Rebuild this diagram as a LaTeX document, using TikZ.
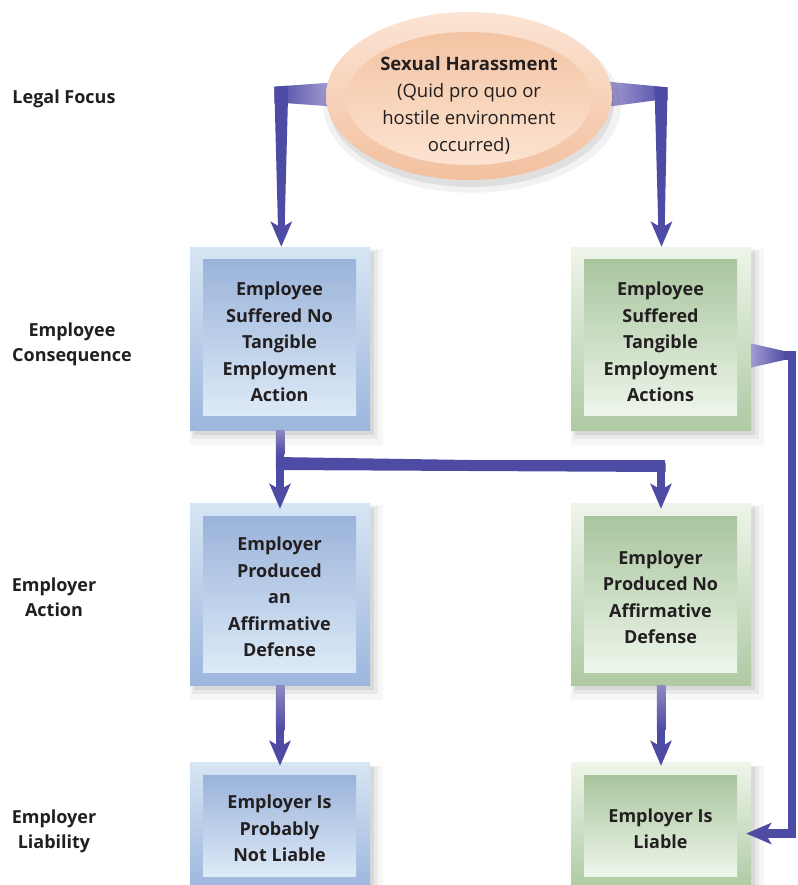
\documentclass[tikz,border=0pt]{standalone}
\usepackage{fontspec}
\setmainfont{Open Sans}
\usetikzlibrary{shapes.geometric,arrows.meta,shadows,backgrounds,calc}
\definecolor{txt}{HTML}{231F20}
\definecolor{bOutT}{HTML}{D7E6F4}
\definecolor{bOutB}{HTML}{9DB6DE}
\definecolor{bInT}{HTML}{9AB3DA}
\definecolor{bInB}{HTML}{DDEAF7}
\definecolor{gOutT}{HTML}{EEF5EA}
\definecolor{gOutB}{HTML}{AFCAA3}
\definecolor{gInT}{HTML}{A8C59D}
\definecolor{gInB}{HTML}{EEF6EB}
\definecolor{pOutT}{HTML}{FCE4D4}
\definecolor{pOutB}{HTML}{F2C09F}
\definecolor{pInT}{HTML}{F3C4A3}
\definecolor{pInB}{HTML}{FCE3D1}
\definecolor{arrD}{HTML}{4E4BA5}
\definecolor{arrL}{HTML}{A39BD2}
\definecolor{arrM}{HTML}{8F89C0}
\newcommand\myboxfont{\bfseries\fontsize{18}{26.5}\selectfont}
\newcommand\mylabfont{\bfseries\fontsize{18}{25}\selectfont}
\newcommand\myellfont{\fontsize{18.5}{27}\selectfont}
\pgfdeclarelayer{bgl}
\pgfdeclarelayer{connl}
\pgfsetlayers{bgl,connl,main}
\begin{document}
\begin{tikzpicture}[x=1pt,y=-1pt,
 softshadow/.style={
   general shadow={shadow xshift=6pt,shadow yshift=-8pt,shadow scale=1.07,opacity=0.035,fill=black},
   general shadow={shadow xshift=5pt,shadow yshift=-6pt,shadow scale=1.035,opacity=0.05,fill=black},
   general shadow={shadow xshift=4pt,shadow yshift=-5pt,opacity=0.07,fill=black}},
 outbox/.style={rectangle, inner sep=0pt, minimum width=180pt, minimum height=#1, softshadow},
 inbox/.style={rectangle, inner sep=0pt, minimum width=153pt, minimum height=#1},
 blueout/.style={outbox=#1, top color=bOutT, bottom color=bOutB},
 bluein/.style={inbox=#1, top color=bInT, bottom color=bInB},
 greenout/.style={outbox=#1, top color=gOutT, bottom color=gOutB},
 greenin/.style={inbox=#1, top color=gInT, bottom color=gInB},
 boxtext/.style={align=center, font=\myboxfont, text=txt, inner sep=0pt},
 lab/.style={align=center, font=\mylabfont, text=txt},
 conn/.style={draw=arrD, line width=#1, -{Stealth[length=25pt,width=21pt,inset=6pt]}},
 conn/.default=8.5pt,
]
\begin{pgfonlayer}{bgl}
\fill[white] (0,0) rectangle (797,885);
\end{pgfonlayer}
\useasboundingbox (0,0) rectangle (797,885);

% boxes
\node[blueout=183pt] (b1o) at (280,338.5) {};
\node[bluein=156pt] (b1f) at (279.5,337) {};
\node[boxtext] (b1) at (279.5,342) {Employee\\Suffered No\\Tangible\\Employment\\Action};
\node[greenout=183pt] (b2o) at (661,338.5) {};
\node[greenin=156pt] (b2f) at (660.5,337) {};
\node[boxtext] (b2) at (660.5,342) {Employee\\Suffered\\Tangible\\Employment\\Actions};
\node[blueout=182pt] (b3o) at (280,594) {};
\node[bluein=156pt] (b3f) at (279.5,594) {};
\node[boxtext] (b3) at (279.5,597) {Employer\\Produced\\an\\Affirmative\\Defense};
\node[greenout=182pt] (b4o) at (661,594) {};
\node[greenin=156pt] (b4f) at (660.5,594) {};
\node[boxtext] (b4) at (660.5,597) {Employer\\Produced No\\Affirmative\\Defense};
\node[blueout=127pt] (b5o) at (280,825.5) {};
\node[bluein=101pt] (b5f) at (279.5,825.5) {};
\node[boxtext] (b5) at (279.5,828.5) {Employer Is\\Probably\\Not Liable};
\node[greenout=127pt] (b6o) at (661,825.5) {};
\node[greenin=101pt] (b6f) at (660.5,825.5) {};
\node[boxtext] (b6) at (660.5,828.5) {Employer Is\\Liable};

% ellipse
\node[ellipse, inner sep=0pt, minimum width=286pt, minimum height=168pt, top color=pOutT, bottom color=pOutB,
      general shadow={shadow xshift=3pt,shadow yshift=-9pt,shadow scale=1.04,opacity=0.05,fill=black},
      general shadow={shadow xshift=2pt,shadow yshift=-7pt,opacity=0.08,fill=black}] (sh) at (469,96) {};
\node[ellipse, inner sep=0pt, minimum width=245pt, minimum height=133pt, top color=pInT, bottom color=pInB] (shi) at (469,98.5) {};
\node[align=center, font=\myellfont, text=txt] (sht) at (469,105) {\textbf{Sexual Harassment}\\(Quid pro quo or\\hostile environment\\occurred)};

% row labels
\node[lab] (l1) at (64,99) {Legal Focus};
\node[lab] (l2) at (72,344) {Employee\\Consequence};
\node[lab] (l3) at (54,597) {Employer\\Action};
\node[lab] (l4) at (54,831) {Employer\\Liability};

% connectors from the ellipse (behind it), with tapered bands
\begin{pgfonlayer}{connl}
\draw[conn=6.5pt] (sh.west) -| ([xshift=1.3pt]b1o.north);
\shade[left color=arrD, right color=arrL] (274.3,86.7) -- (330,82.7) -- (330,106.3) -- (288.3,103.3) -- (274.3,103.3) -- cycle;
\fill[arrD] (274.3,86.7) -- (288.3,85.8) -- (284.6,228) -- (278,228) -- cycle;
\draw[conn=6.5pt] (sh.east) -| ([xshift=0.5pt]b2o.north);
\shade[left color=arrL, right color=arrD] (608,81.7) -- (667.5,87.3) -- (667.5,100.5) -- (654.5,100.5) -- (608,106.7) -- cycle;
\fill[arrD] (654.5,86.5) -- (667.5,87.3) -- (664.7,228) -- (658.3,228) -- cycle;
\end{pgfonlayer}

% connectors between boxes
\draw[conn] (b1o.south) -- ([yshift=-6pt]b3o.north);
\draw[conn] (b1o.south) -- ++(0,34) -| ([yshift=-6pt]b4o.north);
\fill[arrD] (275.75,457) -- (665.5,463) -- (665.5,472) -- (275.75,470) -- cycle;
\shade[top color=arrM, bottom color=arrD] ($(b1o.south)+(-4.25,0)$) rectangle ($(b1o.south)+(4.25,24)$);
\draw[conn] (b3o.south) -- ([yshift=-4pt]b5o.north);
\shade[top color=arrM, bottom color=arrD] ($(b3o.south)+(-4.25,0)$) rectangle ($(b3o.south)+(4.25,45)$);
\draw[conn] (b4o.south) -- ([yshift=-4pt]b6o.north);
\shade[top color=arrM, bottom color=arrD] ($(b4o.south)+(-4.25,0)$) rectangle ($(b4o.south)+(4.25,45)$);
\coordinate (c7s) at ([yshift=-17pt]b2o.east);
\draw[conn] (c7s) -| ([xshift=41pt,yshift=-8pt]b6o.east) -- ([xshift=-5pt,yshift=-8pt]b6o.east);
\shade[left color=arrL, right color=arrD] ($(c7s)+(0,-12)$) -- ($(c7s)+(34,-4.25)$) -- ($(c7s)+(34,4.25)$) -- ($(c7s)+(0,12)$) -- cycle;
\end{tikzpicture}
\end{document}
